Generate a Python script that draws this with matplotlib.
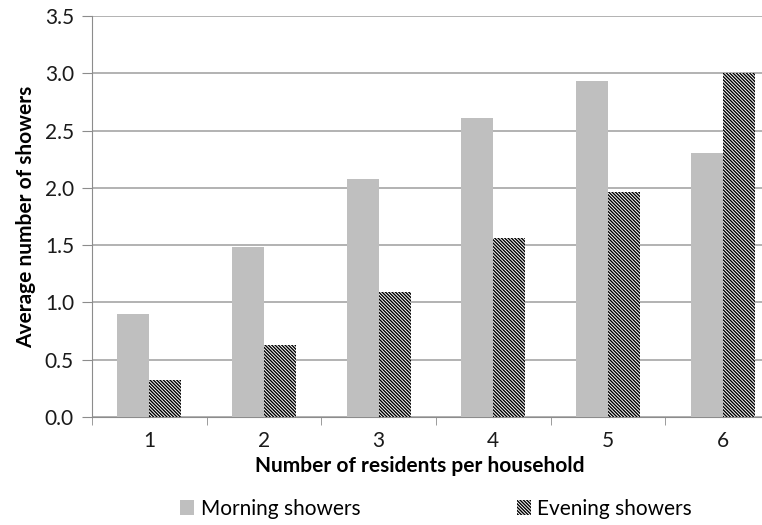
import numpy as np
import matplotlib.pyplot as plt
from matplotlib.patches import Patch

plt.rcParams['font.family'] = ['Lato', 'DejaVu Sans']
plt.rcParams['hatch.linewidth'] = 1.0

residents = ['1', '2', '3', '4', '5', '6']
morning = [0.90, 1.48, 2.08, 2.61, 2.93, 2.30]
evening = [0.32, 0.63, 1.09, 1.56, 1.96, 3.00]

hatch = '\\' * 10

fig = plt.figure(figsize=(7.62, 5.25), dpi=100)
ax = fig.add_axes([92/762, 108/525, 688/762, 401/525])

x = np.arange(len(residents))
w = 0.28
ax.bar(x - w/2, morning, w, color='#BFBFBF', zorder=3)
ax.bar(x + w/2, evening, w, color='white', edgecolor='black', hatch=hatch,
       linewidth=0, zorder=3)

ax.set_xlim(-0.5, 5.5)
ax.set_ylim(0, 3.5)
ax.set_yticks(np.arange(0, 3.51, 0.5))
ax.set_yticklabels(['%.1f' % v for v in np.arange(0, 3.51, 0.5)])
ax.set_xticks(x)
ax.set_xticklabels(residents)
ax.set_xticks(np.arange(-0.5, 5.6, 1), minor=True)
ax.tick_params(axis='x', which='major', length=0, labelsize=15, pad=10, colors='#1a1a1a')
ax.tick_params(axis='x', which='minor', length=6, color='#8C8C8C')
ax.tick_params(axis='y', length=7, color='#8C8C8C', labelsize=15, labelcolor='#1a1a1a', pad=6)

ax.grid(axis='y', color='#A6A6A6', linewidth=1.2, zorder=0)
for s in ['top', 'right']:
    ax.spines[s].set_visible(False)
ax.spines['left'].set_color('#8C8C8C')
ax.spines['bottom'].set_color('#8C8C8C')

ax.set_ylabel('Average number of showers', fontsize=15, fontweight='bold', labelpad=6)
fig.text(420/762, 1 - 466/525, 'Number of residents per household', fontsize=15,
         fontweight='bold', ha='center', va='center')

handles = [Patch(facecolor='#BFBFBF', label='Morning showers'),
           Patch(facecolor='white', edgecolor='black', hatch=hatch, linewidth=0,
                 label='Evening showers')]
fig.legend(handles=handles, loc='center', bbox_to_anchor=(436/762, 1 - 509/525),
           ncol=2, frameon=False, fontsize=15, handlelength=0.7, handleheight=0.7,
           handletextpad=0.3, columnspacing=7.5)

fig.savefig('out.png', dpi=100)
